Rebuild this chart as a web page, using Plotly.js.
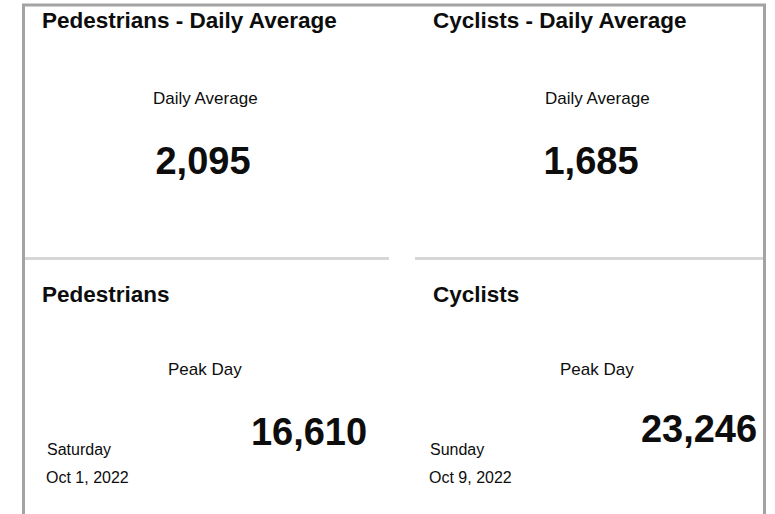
<!DOCTYPE html>
<html>
<head>
<meta charset="utf-8">
<script src="https://cdn.plot.ly/plotly-3.0.1.min.js"></script>
<style>html,body{margin:0;padding:0;background:#fff;}#chart{width:775px;height:514px;}</style>
</head>
<body>
<div id="chart"></div>
<script>
// ---- data ----
var modes = ["Pedestrians", "Cyclists"];
var dailyAverage = [2095, 1685];
var peakValue = [16610, 23246];
var peakWeekday = ["Saturday", "Sunday"];
var peakDate = ["Oct 1, 2022", "Oct 9, 2022"];
var avgLabel = "Daily Average";
var peakLabel = "Peak Day";

// ---- helpers (pixel -> paper) ----
var W = 775, H = 514;
function px(x){ return x / W; }
function py(y){ return 1 - y / H; }

var FONT = "Arial, 'Liberation Sans', sans-serif";
var INK = "#0d0d0d";

// card geometry
var colLeft = [40, 431];          // title left edges
var colCenter = [205, 597];       // label centers
var avgNumCenter = [203, 591];
var peakNumCenter = [309, 699];
var peakNumY = [432, 429];
var dateLeft = [44.5, 428];
var HALF = 66;

var traces = [];
for (var i = 0; i < modes.length; i++) {
  traces.push({
    type: "indicator", mode: "number", value: dailyAverage[i],
    number: {valueformat: ",d", font: {family: FONT, size: 38, color: INK, weight: "bold"}},
    domain: {x: [px(avgNumCenter[i] - HALF), px(avgNumCenter[i] + HALF)], y: [py(161 + 35), py(161 - 35)]}
  });
  traces.push({
    type: "indicator", mode: "number", value: peakValue[i],
    number: {valueformat: ",d", font: {family: FONT, size: 38, color: INK, weight: "bold"}},
    domain: {x: [px(peakNumCenter[i] - HALF), px(peakNumCenter[i] + HALF)], y: [py(peakNumY[i] + 35), py(peakNumY[i] - 35)]}
  });
}

var annotations = [];
function ann(text, x, y, size, anchor, bold) {
  annotations.push({
    xref: "paper", yref: "paper", x: px(x), y: py(y), xanchor: anchor, yanchor: "middle",
    text: bold ? "<b>" + text + "</b>" : text, showarrow: false,
    font: {family: FONT, size: size, color: INK}
  });
}
for (var j = 0; j < modes.length; j++) {
  ann(modes[j] + " - " + avgLabel, colLeft[j], 20.5, 22.5, "left", true);
  ann(avgLabel, colCenter[j], 99, 17, "center", false);
  ann(modes[j], colLeft[j], 294, 22.5, "left", true);
  ann(peakLabel, colCenter[j], 369, 17, "center", false);
  ann(peakWeekday[j], dateLeft[j], 449.5, 16, "left", false);
  ann(peakDate[j], dateLeft[j] - 1, 477.5, 16, "left", false);
}

function line(x0, y0, x1, y1, color, w) {
  return {type: "line", xref: "paper", yref: "paper", x0: px(x0), y0: py(y0), x1: px(x1), y1: py(y1),
          line: {color: color, width: w}};
}
var BORDER = "#a3a3a3", DIV = "#d6d6d6";
var shapes = [
  line(22, 5, 766, 5, BORDER, 3),
  line(23.5, 4, 23.5, 514, BORDER, 3),
  line(764.5, 4, 764.5, 514, BORDER, 3),
  line(25, 258.5, 389, 258.5, DIV, 3),
  line(415, 258.5, 763, 258.5, DIV, 3)
];

var layout = {
  width: W, height: H,
  margin: {l: 0, r: 0, t: 0, b: 0},
  paper_bgcolor: "#ffffff",
  font: {family: FONT, color: INK},
  annotations: annotations,
  shapes: shapes,
  showlegend: false
};

Plotly.newPlot("chart", traces, layout, {displayModeBar: false, staticPlot: true});
</script>
</body>
</html>
